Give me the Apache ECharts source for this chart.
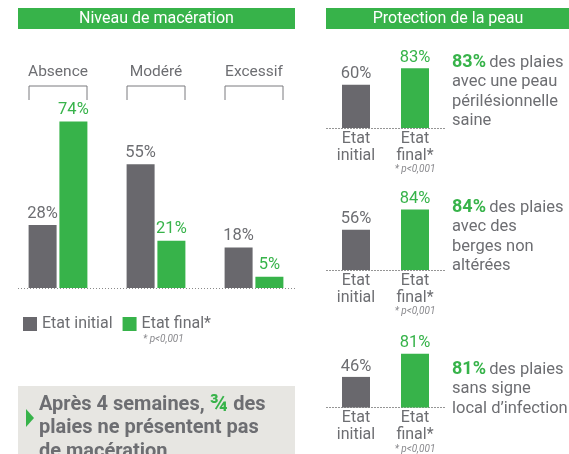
<!DOCTYPE html>
<html>
<head>
<meta charset="utf-8">
<script src="https://cdn.jsdelivr.net/npm/echarts@6/dist/echarts.min.js"></script>
<style>
  html, body { margin: 0; padding: 0; background: #fff; }
  #main { width: 569px; height: 454px; }
</style>
</head>
<body>
<div id="main"></div>
<script>
// données - niveau de macération
var macCats = ['Absence', 'Modéré', 'Excessif'];
var macInitial = [28, 55, 18];
var macFinal = [74, 21, 5];

// données - protection de la peau
var protCats = ['Etat\ninitial', 'Etat\nfinal*'];
var protPeau = [60, 83];
var protBerges = [56, 84];
var protInfection = [46, 81];
var protTexts = [
    ['des plaies', 'avec une peau', 'périlésionnelle', 'saine'],
    ['des plaies', 'avec des', 'berges non', 'altérées'],
    ['des plaies', 'sans signe', 'local d\u2019infection']
];

var GRAY = '#69686d';
var GREEN = '#37b34a';
var TXT = '#6d6e72';
var FONT = 'Roboto, sans-serif';

var chart = echarts.init(document.getElementById('main'));

var protSets = [protPeau, protBerges, protInfection];
var protTops = [56, 198, 341];
var textTops = [53, 198, 360];

var grids = [{ left: 9, width: 294, top: 86, height: 202 }];
var xAxes = [
    {
        gridIndex: 0, type: 'category', data: macCats,
        axisLine: { show: false }, axisTick: { show: false }, axisLabel: { show: false }
    },
    {
        gridIndex: 0, type: 'category', data: macCats, position: 'top',
        axisLine: { show: false }, axisTick: { show: false },
        axisLabel: { color: TXT, fontSize: 15.5, fontFamily: FONT, margin: 6 }
    }
];
var yAxes = [{ gridIndex: 0, type: 'value', min: 0, max: 89.8, show: false }];

var series = [
    {
        name: 'Etat initial', type: 'bar', xAxisIndex: 0, yAxisIndex: 0,
        data: macInitial, barWidth: 28, barGap: '10%',
        itemStyle: { color: GRAY },
        label: { show: true, position: 'top', distance: 3, formatter: '{c}%', color: TXT, fontSize: 16.5, fontFamily: FONT }
    },
    {
        name: 'Etat final*', type: 'bar', xAxisIndex: 0, yAxisIndex: 0,
        data: macFinal, barWidth: 28, barGap: '10%',
        itemStyle: { color: GREEN },
        label: { show: true, position: 'top', distance: 3, formatter: '{c}%', color: GREEN, fontSize: 16.5, fontFamily: FONT }
    },
    {
        // accolades au-dessus des groupes
        type: 'custom', xAxisIndex: 0, yAxisIndex: 0, silent: true,
        data: macCats.map(function (c, i) { return [i, 0]; }),
        renderItem: function (params, api) {
            var c = api.coord([api.value(0), 0]);
            var top = params.coordSys.y;
            return {
                type: 'polyline',
                shape: { points: [[c[0] - 29, top + 14], [c[0] - 29, top], [c[0] + 29, top], [c[0] + 29, top + 14]] },
                style: { stroke: '#7a7a7e', lineWidth: 1, fill: null }
            };
        }
    }
];

protSets.forEach(function (vals, k) {
    var gi = k + 1;
    var xi = k + 2;
    grids.push({ left: 326.5, width: 118, top: protTops[k], height: 72 });
    xAxes.push({
        gridIndex: gi, type: 'category', data: protCats,
        axisLine: { lineStyle: { color: '#8a8a8a', type: [1, 2], width: 1 } },
        axisTick: { show: false },
        axisLabel: {
            margin: 2, interval: 0,
            formatter: function (v, i) {
                var s = v.split('\n').map(function (t) { return '{a|' + t + '}'; }).join('\n');
                return i === 1 ? s + '\n{p|* p<0,001}' : s;
            },
            rich: {
                a: { color: TXT, fontSize: 16, fontFamily: FONT, lineHeight: 17 },
                p: { color: '#8a8a8e', fontSize: 10, fontStyle: 'italic', fontFamily: FONT, lineHeight: 11 }
            }
        }
    });
    yAxes.push({ gridIndex: gi, type: 'value', min: 0, max: 100, show: false });
    series.push({
        type: 'bar', xAxisIndex: xi, yAxisIndex: gi, barWidth: 28,
        data: vals.map(function (v, i) {
            var col = i === 0 ? GRAY : GREEN;
            return { value: v, itemStyle: { color: col }, label: { color: i === 0 ? TXT : GREEN } };
        }),
        label: { show: true, position: 'top', distance: 2, formatter: '{c}%', fontSize: 16.5, fontFamily: FONT }
    });
});

var graphics = [
    // bandeaux de titre
    { type: 'rect', shape: { x: 18, y: 8, width: 277, height: 21 }, style: { fill: GREEN } },
    { type: 'text', x: 156.5, y: 18.5, style: { text: 'Niveau de macération', fill: '#fff', font: '16px ' + FONT, align: 'center', verticalAlign: 'middle' } },
    { type: 'rect', shape: { x: 326, y: 8, width: 243, height: 21 }, style: { fill: GREEN } },
    { type: 'text', x: 448, y: 18.5, style: { text: 'Protection de la peau', fill: '#fff', font: '16px ' + FONT, align: 'center', verticalAlign: 'middle' } },
    // ligne de base pointillée
    { type: 'line', shape: { x1: 18, y1: 288.5, x2: 295, y2: 288.5 }, style: { stroke: '#8a8a8a', lineWidth: 1, lineDash: [1, 2] } },
    // note sous la légende
    { type: 'text', x: 143, y: 334, style: { text: '* p<0,001', fill: '#8a8a8e', font: 'italic 10px ' + FONT } },
    // encadré
    { type: 'rect', shape: { x: 18, y: 386, width: 277, height: 80 }, style: { fill: '#e7e6e2' } },
    { type: 'polygon', shape: { points: [[26, 409], [34, 418], [26, 427]] }, style: { fill: GREEN } },
    {
        type: 'text', x: 39, y: 393,
        style: {
            text: '{b|Après 4 semaines, }{g|¾}{b| des}\n{b|plaies ne présentent pas}\n{b|de macération}',
            rich: {
                b: { fill: TXT, font: 'bold 20px ' + FONT, lineHeight: 23.5 },
                g: { fill: GREEN, font: 'bold 23px ' + FONT, lineHeight: 23.5 }
            }
        }
    }
];

protTexts.forEach(function (lines, k) {
    var pct = protSets[k][1] + '%';
    var txt = '{g|' + pct + '} {t|' + lines[0] + '}';
    for (var i = 1; i < lines.length; i++) txt += '\n{t|' + lines[i] + '}';
    graphics.push({
        type: 'text', x: 452, y: textTops[k],
        style: {
            text: txt,
            rich: {
                g: { fill: GREEN, font: 'bold 18px ' + FONT, lineHeight: 19.5 },
                t: { fill: TXT, font: '16.5px ' + FONT, lineHeight: 19.5 }
            }
        }
    });
});

var option = {
    animation: false,
    backgroundColor: '#fff',
    textStyle: { fontFamily: FONT },
    legend: {
        left: 18, top: 311, itemWidth: 14, itemHeight: 14, itemGap: 10, icon: 'rect',
        data: ['Etat initial', 'Etat final*'],
        textStyle: { color: TXT, fontSize: 16, fontFamily: FONT }
    },
    grid: grids,
    xAxis: xAxes,
    yAxis: yAxes,
    series: series,
    graphic: graphics
};

chart.setOption(option);
</script>
</body>
</html>
